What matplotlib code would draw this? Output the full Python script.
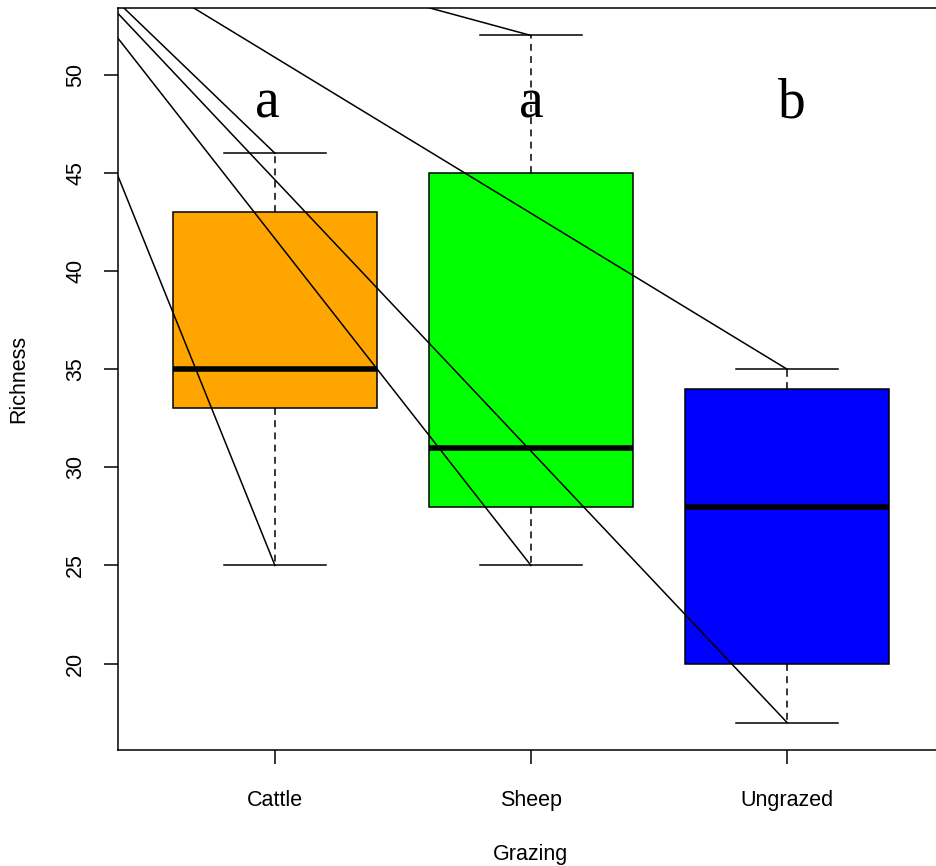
import matplotlib
matplotlib.use("Agg")
import matplotlib.pyplot as plt

# data
groups = ["Cattle", "Sheep", "Ungrazed"]
whislo = [25, 25, 17]
q1 = [33, 28, 20]
med = [35, 31, 28]
q3 = [43, 45, 34]
whishi = [46, 52, 35]
colors = ["#FFA500", "#00FF00", "#0000FF"]

# significance letters
letters = ["a", "a", "b"]
letter_x = [0.97, 2.0, 3.02]
letter_y = 47.8

# stray lines all run from one point off the top-left of the plot
line_origin = (-0.06, 59.3)

plt.rcParams["font.family"] = ["Liberation Sans", "DejaVu Sans"]

fig = plt.figure(figsize=(9.37, 8.66), dpi=100)
ax = fig.add_axes([118 / 937, 1 - 750 / 866, 826 / 937, 742 / 866])

stats = []
for i in range(len(groups)):
    stats.append({"label": groups[i], "whislo": whislo[i], "q1": q1[i],
                  "med": med[i], "q3": q3[i], "whishi": whishi[i], "fliers": []})

bp = ax.bxp(stats, positions=[1, 2, 3], widths=0.8, capwidths=0.4,
            patch_artist=True, showfliers=False,
            boxprops=dict(edgecolor="black", linewidth=1.1),
            medianprops=dict(color="black", linewidth=4, solid_capstyle="butt"),
            whiskerprops=dict(color="black", linewidth=1.1, linestyle=(0, (4.5, 3.5))),
            capprops=dict(color="black", linewidth=1.1))
for patch, c in zip(bp["boxes"], colors):
    patch.set_facecolor(c)

# lines from the origin point to each whisker end
for i in range(len(groups)):
    for y in (whislo[i], whishi[i]):
        ax.plot([line_origin[0], i + 1], [line_origin[1], y],
                color="black", linewidth=1.1)

for x, t in zip(letter_x, letters):
    ax.text(x, letter_y, t, ha="center", va="baseline", fontsize=40,
            family=["Liberation Serif", "DejaVu Serif"])

ax.set_xlim(0.387, 3.613)
ax.set_ylim(15.6, 53.4)
ax.set_yticks([20, 25, 30, 35, 40, 45, 50])
ax.set_yticklabels(["20", "25", "30", "35", "40", "45", "50"],
                   rotation=90, va="center")
ax.set_xticks([1, 2, 3])
ax.set_xticklabels(groups)
ax.tick_params(axis="both", length=10, width=1.1, labelsize=15.5)
ax.tick_params(axis="x", pad=19)
ax.tick_params(axis="y", pad=13)
for s in ax.spines.values():
    s.set_linewidth(1.1)
ax.spines["right"].set_visible(False)

ax.set_xlabel("Grazing", fontsize=15.5)
ax.xaxis.set_label_coords(0.5, -0.1415)
ax.xaxis.label.set_va("center")
ax.set_ylabel("Richness", fontsize=15.5)
ax.yaxis.set_label_coords(-0.12, 0.5)
ax.yaxis.label.set_va("center")

fig.savefig("out.png", dpi=100)
